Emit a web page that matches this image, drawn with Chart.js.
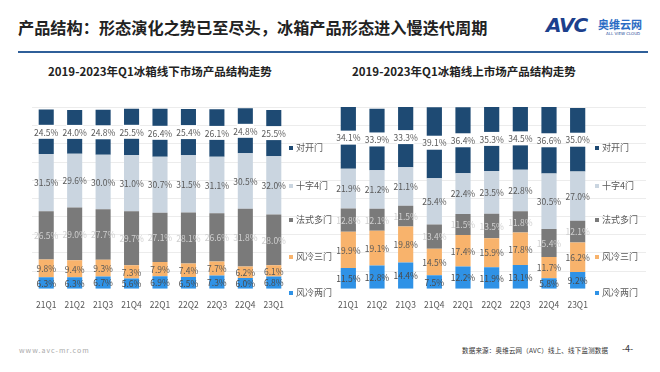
<!DOCTYPE html>
<html>
<head>
<meta charset="utf-8">
<script src="https://cdn.jsdelivr.net/npm/chart.js@4"></script>
<style>
  html, body { margin: 0; padding: 0; background: #fff; }
  body { width: 660px; height: 372px; position: relative; overflow: hidden; font-family: "Noto Sans CJK SC", "Noto Sans", sans-serif; }
  .abs { position: absolute; white-space: nowrap; }
  #titulo { left: 18px; top: 15px; font-size: 16.2px; font-weight: bold; color: #222; }
  #linha { left: 18px; top: 51px; width: 630px; height: 2px; background: #2f5f99; }
  #logo { left: 546px; top: 13px; color: #1f4f9c; }
  #logo .avc { font-family: "DejaVu Sans", sans-serif; font-size: 20px; font-weight: bold; font-style: italic; letter-spacing: -1px; color: #1c3f8c; }
  #logo .cn { position: absolute; left: 52px; top: 3px; font-size: 11px; font-weight: bold; color: #2a6cc4; }
  #logo .en { position: absolute; left: 60px; top: 18px; font-size: 4px; font-family: "DejaVu Sans", sans-serif; }
  .sub { top: 63px; font-size: 11.5px; font-weight: bold; color: #222; }
  .box { position: absolute; top: 95px; height: 222px; }
  .leg { position: absolute; font-size: 9px; color: #595959; line-height: 12px; }
  .leg i { display: inline-block; width: 4px; height: 4px; margin-right: 3px; vertical-align: middle; position: relative; top: -1px; }
  .foot { top: 345px; font-size: 6.5px; }
</style>
</head>
<body>
<div id="titulo" class="abs">产品结构：形态演化之势已至尽头，冰箱产品形态进入慢迭代周期</div>
<div id="linha" class="abs"></div>
<div id="logo" class="abs"><span class="avc">AVC</span><span class="cn">奥维云网</span><span class="en">ALL VIEW CLOUD</span></div>

<div class="abs sub" style="left:48px">2019-2023年Q1冰箱线下市场产品结构走势</div>
<div class="abs sub" style="left:352px">2019-2023年Q1冰箱线上市场产品结构走势</div>

<div class="box" style="left:32px;width:310px"><canvas id="chOff"></canvas></div>
<div class="box" style="left:334px;width:312px"><canvas id="chOn"></canvas></div>
<div id="legOff"></div>
<div id="legOn"></div>

<div class="abs foot" style="left:19px;color:#aaa;font-size:7px;letter-spacing:1px">www.avc-mr.com</div>
<div class="abs foot" style="left:462px;color:#333;letter-spacing:0.2px">数据来源：奥维云网（AVC）线上、线下监测数据</div>
<div class="abs foot" style="left:622px;color:#333;font-size:9px;top:342px">-4-</div>

<script>
  // categorias e séries (de baixo para cima na pilha)
  var trimestres = ["21Q1", "21Q2", "21Q3", "21Q4", "22Q1", "22Q2", "22Q3", "22Q4", "23Q1"];
  var series = ["风冷两门", "风冷三门", "法式多门", "十字4门", "对开门"];

  // 线下
  var offDuas = [6.3, 6.3, 6.7, 5.6, 6.9, 6.5, 7.3, 6.0, 6.8];
  var offTres = [9.8, 9.4, 9.3, 7.3, 7.9, 7.4, 7.7, 6.2, 6.1];
  var offFrances = [26.5, 29.0, 27.7, 29.7, 27.1, 28.1, 26.6, 31.8, 28.0];
  var offCruz = [31.5, 29.6, 30.0, 31.0, 30.7, 31.5, 31.1, 30.5, 32.0];
  var offDupla = [24.5, 24.0, 24.8, 25.5, 26.4, 25.4, 26.1, 24.8, 25.5];

  // 线上
  var onDuas = [11.5, 12.8, 14.4, 7.5, 12.2, 11.9, 13.1, 5.8, 9.2];
  var onTres = [19.9, 19.1, 19.8, 14.5, 17.4, 15.9, 17.8, 11.7, 16.2];
  var onFrances = [12.8, 12.1, 11.5, 13.4, 11.5, 13.5, 11.8, 15.4, 12.1];
  var onCruz = [21.9, 21.2, 21.1, 25.4, 22.4, 23.5, 22.8, 30.5, 27.0];
  var onDupla = [34.1, 33.9, 33.3, 39.1, 36.4, 35.3, 34.5, 36.6, 35.0];

  var cores = ["#2f92e6", "#f8b36c", "#7a7a7a", "#cad5e0", "#1e4a73"];
  var corTexto = ["#4a4a4a", "#595959", "#cfcfcf", "#595959", "#595959"];

  var gradeEtiquetas = {
    id: "gradeEtiquetas",
    beforeDatasetsDraw: function (chart) {
      var ctx = chart.ctx, y = chart.scales.y, a = chart.chartArea;
      ctx.save();
      ctx.strokeStyle = "#ececec";
      ctx.lineWidth = 1;
      for (var v = 10; v <= 100; v += 10) {
        var py = Math.round(y.getPixelForValue(v)) + 0.5;
        ctx.beginPath(); ctx.moveTo(a.left, py); ctx.lineTo(chart.width, py); ctx.stroke();
      }
      ctx.restore();
    },
    afterDatasetsDraw: function (chart) {
      var ctx = chart.ctx;
      ctx.save();
      ctx.font = "8.5px 'Noto Sans CJK SC', sans-serif";
      ctx.textAlign = "center";
      ctx.textBaseline = "middle";
      chart.data.datasets.forEach(function (ds, i) {
        chart.getDatasetMeta(i).data.forEach(function (bar, j) {
          var cy = (bar.y + bar.base) / 2;
          if (i === 4) {
            ctx.fillStyle = "#fff";
            ctx.fillRect(bar.x - bar.width / 2 - 1, cy - 7, bar.width + 2, 14);
          }
          ctx.fillStyle = corTexto[i];
          ctx.fillText(ds.data[j].toFixed(1) + "%", bar.x, cy + 0.5);
        });
      });
      ctx.restore();
    }
  };

  function criar(id, valores) {
    new Chart(document.getElementById(id), {
      type: "bar",
      data: {
        labels: trimestres,
        datasets: valores.map(function (d, i) {
          return { label: series[i], data: d, backgroundColor: cores[i], borderWidth: 0, barPercentage: 0.53, categoryPercentage: 1 };
        })
      },
      options: {
        responsive: true,
        maintainAspectRatio: false,
        animation: false,
        layout: { padding: { top: 12, bottom: 4, left: 0, right: 54 } },
        plugins: { legend: { display: false }, tooltip: { enabled: false } },
        scales: {
          x: { stacked: true, grid: { display: false }, border: { display: false },
               ticks: { color: "#595959", font: { size: 8.5, family: "'Noto Sans CJK SC', sans-serif" }, padding: 3 } },
          y: { stacked: true, display: false, min: 0, max: 100 }
        }
      },
      plugins: [gradeEtiquetas]
    });
  }

  criar("chOff", [offDuas, offTres, offFrances, offCruz, offDupla]);
  criar("chOn", [onDuas, onTres, onFrances, onCruz, onDupla]);

  function legenda(id, x) {
    var el = document.getElementById(id);
    var ys = [148, 186, 220, 257, 293];
    for (var k = 0; k < 5; k++) {
      var i = 4 - k;
      var d = document.createElement("div");
      d.className = "leg";
      d.style.left = x + "px";
      d.style.top = (ys[k] - 6) + "px";
      d.innerHTML = '<i style="background:' + cores[i] + '"></i>' + series[i];
      el.appendChild(d);
    }
  }
  legenda("legOff", 289);
  legenda("legOn", 595);
</script>
</body>
</html>
